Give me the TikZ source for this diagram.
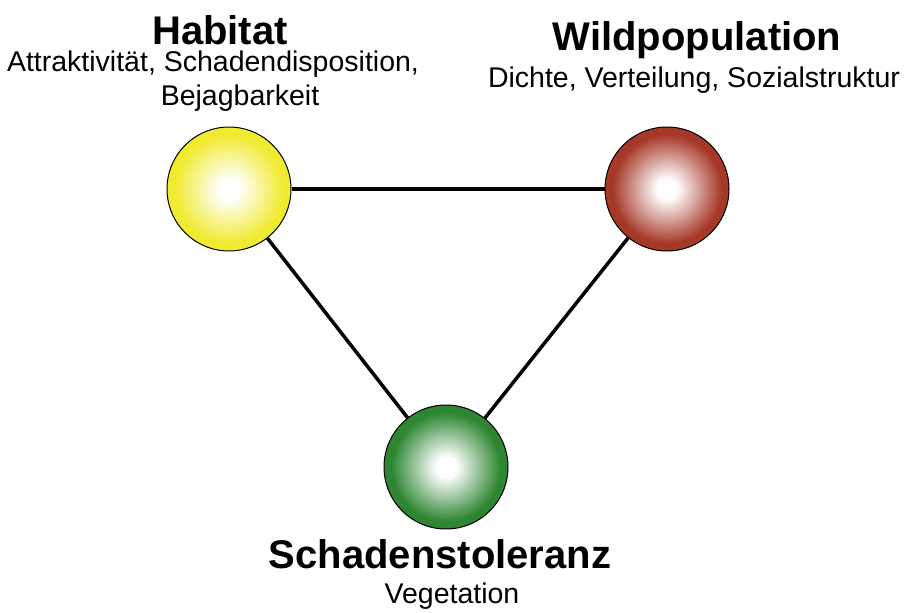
\documentclass[tikz,border=0pt]{standalone}
\usepackage{fontspec}
\setmainfont{Liberation Sans}
\usepackage{tikz}
\usetikzlibrary{positioning}

\definecolor{habitatcol}{RGB}{240,234,48}
\definecolor{wildcol}{RGB}{166,56,40}
\definecolor{vegcol}{RGB}{46,134,50}

\pgfdeclareradialshading{habitatball}{\pgfpoint{0bp}{0bp}}{color(0bp)=(white); color(4bp)=(white); color(22bp)=(habitatcol); color(50bp)=(habitatcol)}
\pgfdeclareradialshading{wildball}{\pgfpoint{0bp}{0bp}}{color(0bp)=(white); color(4bp)=(white); color(22bp)=(wildcol); color(50bp)=(wildcol)}
\pgfdeclareradialshading{vegball}{\pgfpoint{0bp}{0bp}}{color(0bp)=(white); color(4bp)=(white); color(22bp)=(vegcol); color(50bp)=(vegcol)}

\begin{document}
\begin{tikzpicture}[x=1pt,y=-1pt,line width=3.5pt]
  \tikzstyle{ball}=[circle,draw=black,line width=1pt,minimum size=124pt,inner sep=0pt,shade]
  \tikzstyle{title}=[anchor=base,inner sep=0pt,font=\fontsize{40}{48}\selectfont\bfseries]
  \tikzstyle{sub}=[anchor=base,inner sep=0pt,font=\fontsize{28.5}{34}\selectfont]

  \useasboundingbox (0,0) rectangle (908,613);

  \node[ball,shading=habitatball] (H) at (229,189) {};
  \node[ball,shading=wildball]    (W) at (667,189) {};
  \node[ball,shading=vegball]     (S) at (446,467) {};

  \node[title] (Ht)  at (220,44)  {Habitat};
  \node[sub]   (Hs1) at (213,71)  {Attraktivität, Schadendisposition,};
  \node[sub]   (Hs2) at (240,105) {Bejagbarkeit};

  \node[title] (Wt)  at (697,50)  {Wildpopulation};
  \node[sub]   (Ws)  at (694,87)  {Dichte, Verteilung, Sozialstruktur};

  \node[title] (St)  at (440,568) {Schadenstoleranz};
  \node[sub]   (Ss)  at (452,603) {Vegetation};

  \path (H) edge (W)
        (H) edge (S)
        (W) edge (S);
\end{tikzpicture}
\end{document}
